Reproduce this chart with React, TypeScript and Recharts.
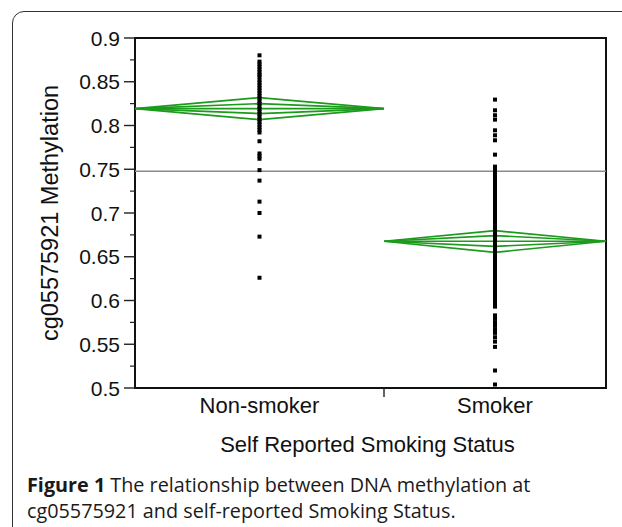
import { ComposedChart, Scatter, XAxis, YAxis, ReferenceLine, ReferenceArea } from 'recharts'

// group widths on the x axis (JMP draws them proportional to group size)
const groups = ['Non-smoker', 'Smoker']
const groupStart = [0, 249]
const groupEnd = [249, 471]
const groupCenter = [124.5, 360]

// means diamonds: mean, 95% CI and inner marks
const groupMean = [0.8193, 0.6677]
const ciUpper = [0.8319, 0.6799]
const ciLower = [0.8067, 0.6551]
const innerUpper = [0.825, 0.6742]
const innerLower = [0.8136, 0.6619]

const grandMean = 0.7477

const nonSmokerValues = [
  0.8802, 0.873, 0.870, 0.867, 0.864, 0.861, 0.858, 0.856,
  0.852, 0.849, 0.846, 0.843, 0.840, 0.837, 0.834, 0.831, 0.828, 0.825, 0.822,
  0.819, 0.816, 0.813, 0.810, 0.807, 0.804, 0.801, 0.798, 0.795, 0.792,
  0.782, 0.768, 0.765, 0.762, 0.749, 0.737, 0.713, 0.700, 0.673, 0.626,
]

const smokerValues = [
  0.8296, 0.8174, 0.8117, 0.8067, 0.7945, 0.7888, 0.7831, 0.7667,
  0.753, 0.750, 0.747, 0.744, 0.741, 0.738, 0.735, 0.732, 0.729, 0.726,
  0.723, 0.720, 0.717, 0.714, 0.711, 0.708, 0.705, 0.702, 0.699, 0.696,
  0.693, 0.690, 0.687, 0.684, 0.681, 0.678, 0.675, 0.672, 0.669, 0.666,
  0.663, 0.660, 0.657, 0.654, 0.651, 0.648, 0.645, 0.642, 0.639, 0.636,
  0.633, 0.630, 0.627, 0.624, 0.621, 0.618, 0.615, 0.612, 0.609, 0.606,
  0.603, 0.600, 0.597, 0.593,
  0.583, 0.579, 0.575, 0.571, 0.567, 0.563, 0.558, 0.553, 0.547,
  0.520, 0.504,
]

const yTicks = [
  0.5, 0.525, 0.55, 0.575, 0.6, 0.625, 0.65, 0.675, 0.7,
  0.725, 0.75, 0.775, 0.8, 0.825, 0.85, 0.875, 0.9,
]
const yLabels = ['0.5', '', '0.55', '', '0.6', '', '0.65', '', '0.7', '', '0.75', '', '0.8', '', '0.85', '', '0.9']

const xTicks = [groupCenter[0], groupEnd[0], groupCenter[1]]

const GREEN = '#1c9a1c'
const FONT = '"Liberation Sans", Arial, sans-serif'

const pointData = [
  ...nonSmokerValues.map((v) => ({ x: groupCenter[0], y: v })),
  ...smokerValues.map((v) => ({ x: groupCenter[1], y: v })),
]

function diamond(i: number, up: number, lo: number) {
  return [
    { x: groupStart[i], y: groupMean[i] },
    { x: groupCenter[i], y: up },
    { x: groupEnd[i], y: groupMean[i] },
    { x: groupCenter[i], y: lo },
    { x: groupStart[i], y: groupMean[i] },
  ]
}

function meanLine(i: number) {
  return [
    { x: groupStart[i], y: groupMean[i] },
    { x: groupEnd[i], y: groupMean[i] },
  ]
}

const NoShape = () => <g />

const Square = (props: any) => {
  const { cx, cy } = props
  return <rect x={cx - 2} y={cy - 2} width={4} height={4} fill="#000" />
}

const YTick = (props: any) => {
  const { x, y, index } = props
  const label = yLabels[index]
  if (!label) {
    return <line x1={x - 5} x2={x} y1={y} y2={y} stroke="#222" strokeWidth={1.2} />
  }
  return (
    <g>
      <line x1={x - 11} x2={x} y1={y} y2={y} stroke="#222" strokeWidth={1.4} />
      <text x={x - 15} y={y} dy="0.36em" textAnchor="end" fontSize={21} fontFamily={FONT} fill="#111">
        {label}
      </text>
    </g>
  )
}

const XTick = (props: any) => {
  const { x, y, index } = props
  if (index === 1) {
    return <line x1={x} x2={x} y1={y} y2={y + 9} stroke="#222" strokeWidth={1.4} />
  }
  const name = index === 0 ? groups[0] : groups[1]
  return (
    <text x={x} y={y + 25} textAnchor="middle" fontSize={22} fontFamily={FONT} fill="#111">
      {name}
    </text>
  )
}

const diamondLine = { stroke: GREEN, strokeWidth: 1.7 }

export default function App() {
  return (
    <div style={{ position: 'absolute', left: 0, top: 0, width: 622, height: 527, overflow: 'hidden', background: '#fff' }}>
      <div
        style={{
          position: 'absolute',
          left: 12,
          top: 11,
          width: 700,
          height: 600,
          border: '1.5px solid #333',
          borderRadius: 12,
          boxSizing: 'border-box',
        }}
      />
      <div style={{ position: 'absolute', left: 0, top: 0 }}>
        <ComposedChart width={622} height={527} margin={{ top: 38, right: 16, left: 75, bottom: 99 }}>
          <XAxis
            type="number"
            dataKey="x"
            domain={[0, 471]}
            ticks={xTicks}
            interval={0}
            axisLine={false}
            tickLine={false}
            tickSize={0}
            tickMargin={0}
            height={40}
            tick={<XTick />}
            label={{
              content: ({ viewBox }: any) => (
                <text
                  x={viewBox.x + viewBox.width / 2 - 3}
                  y={viewBox.y + 64}
                  textAnchor="middle"
                  fontSize={22}
                  fontFamily={FONT}
                  fill="#111"
                >
                  Self Reported Smoking Status
                </text>
              ),
            }}
          />
          <YAxis
            type="number"
            dataKey="y"
            domain={[0.5, 0.9]}
            ticks={yTicks}
            interval={0}
            axisLine={false}
            tickLine={false}
            tickSize={0}
            tickMargin={0}
            width={60}
            tick={<YTick />}
            label={{
              content: ({ viewBox }: any) => {
                const cx = viewBox.x + viewBox.width - 85
                const cy = viewBox.y + viewBox.height / 2
                return (
                  <text
                    x={cx}
                    y={cy}
                    transform={`rotate(-90 ${cx} ${cy})`}
                    textAnchor="middle"
                    dy="0.35em"
                    fontSize={23.5}
                    fontFamily={FONT}
                    fill="#111"
                  >
                    cg05575921 Methylation
                  </text>
                )
              },
            }}
          />
          <ReferenceLine y={grandMean} stroke="#8a8a8a" strokeWidth={1.5} ifOverflow="visible" />
          {[0, 1].map((i) => (
            <Scatter
              key={'d' + i}
              data={diamond(i, ciUpper[i], ciLower[i])}
              line={diamondLine}
              lineType="joint"
              shape={<NoShape />}
              isAnimationActive={false}
            />
          ))}
          {[0, 1].map((i) => (
            <Scatter
              key={'in' + i}
              data={diamond(i, innerUpper[i], innerLower[i])}
              line={diamondLine}
              lineType="joint"
              shape={<NoShape />}
              isAnimationActive={false}
            />
          ))}
          {[0, 1].map((i) => (
            <Scatter
              key={'m' + i}
              data={meanLine(i)}
              line={diamondLine}
              lineType="joint"
              shape={<NoShape />}
              isAnimationActive={false}
            />
          ))}
          <Scatter data={pointData} shape={<Square />} isAnimationActive={false} />
          <ReferenceArea
            x1={0}
            x2={471}
            y1={0.5}
            y2={0.9}
            fill="none"
            fillOpacity={0}
            stroke="#111"
            strokeWidth={2}
            ifOverflow="visible"
          />
        </ComposedChart>
      </div>
      <div
        style={{
          position: 'absolute',
          left: 27,
          top: 472,
          fontFamily: '"Open Sans", sans-serif',
          fontSize: 19.8,
          lineHeight: '26px',
          color: '#1a1a1a',
          whiteSpace: 'nowrap',
        }}
      >
        <b>Figure 1</b> The relationship between DNA methylation at
        <br />
        cg05575921 and self-reported Smoking Status.
      </div>
    </div>
  )
}
